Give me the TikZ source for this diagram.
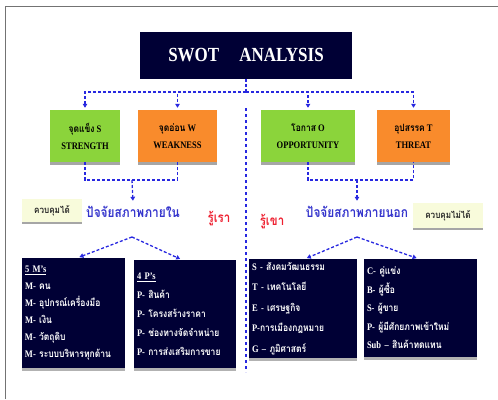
\documentclass[tikz,border=0pt]{standalone}
\usepackage{fontspec}
\setmainfont{Liberation Serif}[FakeStretch=0.85]
\newfontfamily\thaifont[Script=Thai,FakeStretch=0.85]{Loma}
\usetikzlibrary{calc,arrows.meta,shadows}
\definecolor{navy}{HTML}{000035}
\definecolor{leaf}{HTML}{8BD43B}
\definecolor{tang}{HTML}{F98B2C}
\definecolor{cream}{HTML}{F8FBDB}
\definecolor{linkblue}{HTML}{2828E0}
\definecolor{factorblue}{HTML}{3434CC}
\definecolor{rured}{HTML}{EE2030}
\newcommand{\tx}[1]{{\thaifont #1}}

\begin{document}
\begin{tikzpicture}[x=1pt,y=-1pt,
    link/.style={draw=linkblue,line width=1.3pt,dash pattern=on 3pt off 2pt},
    tip/.style={-{Triangle[length=4pt,width=4.5pt]},shorten >=2pt},
    swot/.style={minimum height=52pt,align=center,inner sep=0pt,
      font=\fontsize{10}{17}\selectfont\bfseries,
      drop shadow={shadow xshift=0pt,shadow yshift=-2.5pt,fill=black!35,opacity=1}},
    tag/.style={fill=cream,text=black!85,inner sep=0pt,
      font=\thaifont\fontsize{9.5}{10}\selectfont\bfseries,
      drop shadow={shadow xshift=0pt,shadow yshift=-2pt,fill=black!35,opacity=1}},
    factor/.style={text=factorblue,font=\thaifont\fontsize{14}{14}\selectfont\bfseries},
    know/.style={text=rured,font=\thaifont\fontsize{13.5}{14}\selectfont\bfseries},
    listbox/.style={fill=navy,text=white,align=left,inner xsep=3pt,inner ysep=0pt,
      font=\fontsize{10}{17}\selectfont\bfseries,
      drop shadow={shadow xshift=0pt,shadow yshift=-2.5pt,fill=black!30,opacity=1}}]
    \useasboundingbox (0,0) rectangle (498,399);
    \pgfmathsetmacro{\axisx}{246} % middle line
    % frame
    \coordinate (fbl) at (5,399);
    \coordinate (ftl) at (5,6);
    \coordinate (ftr) at (498,6);
    \draw[black!55,line width=1pt] (fbl) -- (ftl) -- (ftr);

    % title
    \node[fill=navy,text=white,minimum width=212pt,minimum height=47pt,
          font=\fontsize{20}{20}\selectfont\bfseries] (title) at (\axisx,55) {SWOT\quad ANALYSIS};

    % four boxes
    \node[swot,fill=leaf,minimum width=70pt] (s) at (85,136) {\tx{จุดแข็ง} S\\ STRENGTH};
    \node[swot,fill=tang,minimum width=79pt] (w) at (177.5,136) {\tx{จุดอ่อน} W\\ WEAKNESS};
    \node[swot,fill=leaf,minimum width=94pt] (o) at (308,136) {\tx{โอกาส} O\\ OPPORTUNITY};
    \node[swot,fill=tang,minimum width=73pt] (t) at (413.5,136) {\tx{อุปสรรค} T\\ THREAT};

    \coordinate (hub) at (\axisx,92);
    \draw[link] (title.south) -- (hub);
    \draw[link,tip] (hub) -| (s.north);
    \draw[link,tip] (hub) -| (w.north);
    \draw[link,tip] (hub) -| (o.north);
    \draw[link,tip] (hub) -| (t.north);

    % dividing dotted line
    \coordinate (divtop) at (\axisx,108);
    \coordinate (divbot) at (\axisx,372);
    \draw[linkblue,line width=2.6pt,dash pattern=on 2.6pt off 3.4pt] (divtop) -- (divbot);

    % inner / outer factors
    \node[tag,minimum width=60pt,minimum height=23pt] (ctrl) at (52,210.5) {ควบคุมได้};
    \node[factor] (inner) at (133,212) {ปัจจัยสภาพภายใน};
    \node[know] (we) at (219,219) {รู้เรา};
    \node[know] (they) at (272,222) {รู้เขา};
    \node[factor] (outer) at (357,212) {ปัจจัยสภาพภายนอก};
    \node[tag,minimum width=70pt,minimum height=25pt] (noctrl) at (448,215.5) {ควบคุมไม่ได้};

    \coordinate (injoin) at (132,180);
    \coordinate (outjoin) at (357,180);
    \draw[link] (s.south) |- (injoin) -| (w.south);
    \draw[link] (o.south) |- (outjoin) -| (t.south);
    \draw[link,tip] (injoin) -- (inner.north);
    \draw[link,tip] (outjoin) -- (outer.north);

    % lists
    \node[listbox,text width=97pt,minimum height=110pt] (m) at (73.5,313)
      {\underline{5 M's}\\ M- \tx{คน}\\ M- \tx{อุปกรณ์เครื่องมือ}\\ M- \tx{เงิน}\\ M- \tx{วัตถุดิบ}\\ M- \tx{ระบบบริหารทุกด้าน}};
    \node[listbox,text width=96pt,minimum height=108pt,font=\fontsize{10}{19}\selectfont\bfseries] (p) at (185,314)
      {\underline{4 P's}\\ P- \tx{สินค้า}\\ P- \tx{โครงสร้างราคา}\\ P- \tx{ช่องทางจัดจำหน่าย}\\ P- \tx{การส่งเสริมการขาย}};
    \node[listbox,text width=102pt,minimum height=99pt,font=\fontsize{10}{20.5}\selectfont\bfseries] (pest) at (303,308.5)
      {S - \tx{สังคมวัฒนธรรม}\\ T - \tx{เทคโนโลยี}\\ E - \tx{เศรษฐกิจ}\\ P-\tx{การเมืองกฎหมาย}\\ G -- \tx{ภูมิศาสตร์}};
    \node[listbox,text width=107pt,minimum height=98pt,font=\fontsize{10}{18.5}\selectfont\bfseries] (force) at (420.5,308)
      {C- \tx{คู่แข่ง}\\ B- \tx{ผู้ซื้อ}\\ S- \tx{ผู้ขาย}\\ P- \tx{ผู้มีศักยภาพเข้าใหม่}\\ Sub -- \tx{สินค้าทดแทน}};

    \coordinate (inpeak) at (132,237);
    \coordinate (outpeak) at (357,237);
    \draw[link,tip] (inpeak) -- ($(m.north)+(4,0)$);
    \draw[link,tip] (inpeak) -- ($(p.north)+(-3,0)$);
    \draw[link,tip] (outpeak) -- ($(pest.north)+(2,0)$);
    \draw[link,tip] (outpeak) -- ($(force.north)+(-2,0)$);
\end{tikzpicture}
\end{document}
